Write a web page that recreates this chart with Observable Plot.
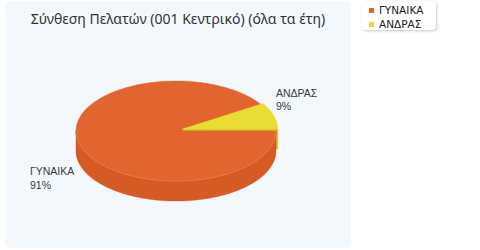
<!DOCTYPE html>
<html><head><meta charset="utf-8">
<script src="https://cdn.jsdelivr.net/npm/d3@7"></script>
<script src="https://cdn.jsdelivr.net/npm/@observablehq/plot@0.6"></script>
<style>
html,body{margin:0;padding:0;background:#fff;}
#wrap{position:relative;width:480px;height:250px;overflow:hidden;}
#panel{position:absolute;left:5px;top:1px;width:346px;height:247px;background:#f3f8fc;border-radius:5px;}
#title{position:absolute;left:5px;width:346px;top:9px;text-align:center;font-family:"Noto Sans",sans-serif;font-size:14px;color:#333;white-space:nowrap;}
#legend{position:absolute;left:362px;top:1px;width:74px;height:29px;background:#fff;border-radius:4px;box-shadow:1px 1px 3px rgba(0,0,0,.22);}
.li{position:absolute;left:7px;font-family:"DejaVu Sans",sans-serif;font-size:10.5px;color:#222;white-space:nowrap;line-height:12px;}
.sw{display:inline-block;width:5px;height:5px;margin-right:5px;vertical-align:1px;}
#chart{position:absolute;left:0;top:0;}
</style></head>
<body><div id="wrap"><div id="panel"></div><div id="title"></div><div id="legend"></div><div id="chart"></div></div>
<script>
const titleText = "Σύνθεση Πελατών (001 Κεντρικό) (όλα τα έτη)";
const categories = ["ΓΥΝΑΙΚΑ", "ΑΝΔΡΑΣ"];
const values = [91, 9];
const percentLabels = ["91%", "9%"];
const topColors = ["#e2642e", "#e8dd35"];
const sideColors = ["#d55a23", "#d7ca2c"];
const faceColors = ["#c9531f", "#cdbf28"];

// layout
const CX = 175.5, CY = 130.5, RX = 100, RY = 50, DEPTH = 20;
const explode = [0, 7];
const shrink = [1, 0.95];

document.getElementById("title").textContent = titleText;
const leg = document.getElementById("legend");
categories.forEach((c, i) => {
  const d = document.createElement("div");
  d.className = "li";
  d.style.top = (3 + i * 14) + "px";
  d.innerHTML = `<span class="sw" style="background:${topColors[i]}"></span>${c}`;
  leg.appendChild(d);
});

const total = d3.sum(values);
const rad = Math.PI / 180;
let acc = 0;
const slices = values.map((v, i) => {
  const a0 = acc / total * 360; acc += v; const a1 = acc / total * 360;
  const m = (a0 + a1) / 2;
  const cx = CX + explode[i] * Math.cos(m * rad);
  const cy = CY + explode[i] * Math.sin(m * rad);
  return {i, a0, a1, m, cx, cy, rx: RX * shrink[i], ry: RY * shrink[i]};
});

function arc(s, b0, b1, dy) {
  const n = Math.max(2, Math.ceil(Math.abs(b1 - b0) / 2));
  return d3.range(n + 1).map(k => {
    const t = (b0 + (b1 - b0) * k / n) * rad;
    return {x: s.cx + s.rx * Math.cos(t), y: s.cy + s.ry * Math.sin(t) + dy};
  });
}
function face(s, a) {
  const t = a * rad;
  const rx = s.cx + s.rx * Math.cos(t), ry = s.cy + s.ry * Math.sin(t);
  return [{x: s.cx, y: s.cy}, {x: rx, y: ry}, {x: rx, y: ry + DEPTH}, {x: s.cx, y: s.cy + DEPTH}];
}

const faces = [], walls = [], tops = [], rims = [];
slices.forEach(s => {
  if (Math.sin((s.a0 - 90) * rad) > 0.001) faces.push({s, pts: face(s, s.a0)});
  if (Math.cos(s.a1 * rad) > 0.001) faces.push({s, pts: face(s, s.a1)});
  const w0 = Math.max(s.a0, 0), w1 = Math.min(s.a1, 180);
  if (w1 > w0) {
    walls.push({s, pts: [...arc(s, w0, w1, 0), ...arc(s, w1, w0, DEPTH)]});
    rims.push({s, pts: arc(s, w0, w1, 0)});
  }
  tops.push({s, pts: [{x: s.cx, y: s.cy}, ...arc(s, s.a0, s.a1, 0)]});
});

const polyMark = (p, fill) => Plot.line(p.pts, {x: "x", y: "y", fill, stroke: fill, strokeWidth: 0.5, curve: "linear-closed"});
const labelData = slices.map(s => {
  const c = Math.cos(s.m * rad), sn = Math.sin(s.m * rad);
  const px = s.cx + s.rx * c, py = s.cy + s.ry * sn;
  return {x: c >= 0 ? px + 2 : px - 50, y: sn >= 0 ? py + 20 : py - 29, text: categories[s.i] + "\n" + percentLabels[s.i]};
});

const chart = Plot.plot({
  width: 480, height: 250, margin: 0,
  style: {background: "transparent", overflow: "visible"},
  x: {domain: [0, 480], range: [0, 480], axis: null},
  y: {domain: [0, 250], range: [0, 250], axis: null},
  marks: [
    ...faces.map(p => polyMark(p, faceColors[p.s.i])),
    ...walls.map(p => polyMark(p, sideColors[p.s.i])),
    ...tops.filter(p => p.s.i === 0).map(p => polyMark(p, topColors[p.s.i])),
    ...rims.filter(p => p.s.i === 0).map(p => Plot.line(p.pts, {x: "x", y: "y", stroke: "#ea7644", strokeWidth: 1})),
    ...tops.filter(p => p.s.i !== 0).map(p => polyMark(p, topColors[p.s.i])),
    Plot.text(labelData, {x: "x", y: "y", text: "text", textAnchor: "start", lineAnchor: "top", lineHeight: 1.32, fontSize: 10.5, fill: "#3a3a3a", fontFamily: "Liberation Sans"})
  ]
});
document.getElementById("chart").appendChild(chart);
</script></body></html>
